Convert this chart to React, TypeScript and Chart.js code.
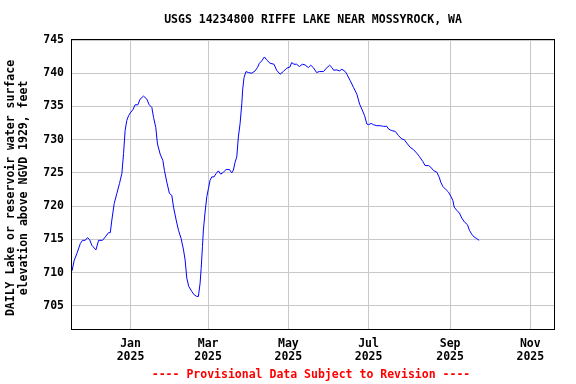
import React, { useEffect, useRef } from "react";
import { Chart, registerables } from "chart.js";

Chart.register(...registerables);

const TITLE = "USGS 14234800 RIFFE LAKE NEAR MOSSYROCK, WA";
const Y_TITLE = ["DAILY Lake or reservoir water surface", "elevation above NGVD 1929, feet"];
const FOOTER = "---- Provisional Data Subject to Revision ----";

// days since 2025-01-01
const days = [
  -44.5, -42.8, -40.8, -38.2, -36.5, -34.4, -32.7, -31.1, -29.4, -26.3,
  -24.3, -21.3, -19.2, -16.7, -15.4, -14.2, -12.4, -10.4, -8.4, -6.6,
  -5.3, -4.1, -2.8, -1.5, -0.3, 1.8, 3.5, 5.6, 7.3, 9.9,
  12.4, 14.2, 16.2, 17.5, 19.2, 20.5, 22.5, 24.6, 25.8, 27.6,
  29.6, 31.4, 32.7, 34.7, 36.5, 38.5, 40.3, 41.5, 42.8, 44.3,
  46.6, 48.4, 50.4, 51.6, 52.9, 53.7, 54.7, 55.4, 56.7, 58.0,
  59.2, 60.5, 61.8, 63.5, 65.1, 66.8, 68.6, 70.6, 72.7, 75.2,
  77.0, 78.2, 79.5, 80.8, 82.0, 83.3, 84.6, 85.3, 86.3, 87.8,
  89.6, 92.2, 94.7, 96.5, 98.0, 99.7, 101.8, 103.5, 106.1, 109.1,
  111.1, 113.7, 116.2, 118.7, 121.3, 122.5, 124.3, 126.3, 128.4, 130.6,
  132.7, 135.2, 137.0, 139.0, 141.5, 143.5, 146.8, 148.8, 151.4, 153.2,
  154.4, 156.9, 159.0, 160.7, 163.3, 164.5, 167.1, 169.6, 172.1, 174.2,
  175.9, 178.0, 179.7, 181.0, 183.0, 184.8, 187.3, 189.9, 192.4, 194.9,
  196.2, 198.7, 201.3, 203.8, 206.3, 208.1, 210.6, 212.6, 215.2, 217.7,
  219.7, 222.3, 224.0, 226.6, 228.3, 230.4, 232.9, 234.7, 235.9, 237.5,
  240.0, 241.8, 243.5, 245.1, 246.1, 248.1, 250.1, 251.9, 253.9, 256.2,
  257.7, 259.5, 261.3, 263.3, 265.1,
];

const elevations = [
  710.25, 711.85, 712.85, 714.35, 714.85, 714.85, 715.25, 714.95, 714.1, 713.4,
  714.85, 714.85, 715.35, 716.0, 716.0, 717.9, 720.4, 721.9, 723.4, 724.9,
  727.9, 731.4, 732.9, 733.6, 734.0, 734.5, 735.25, 735.25, 736.1, 736.55,
  736.1, 735.25, 734.85, 733.35, 731.85, 729.35, 727.85, 726.85, 725.35, 723.6,
  721.9, 721.6, 719.85, 717.9, 716.35, 715.1, 713.4, 711.9, 709.15, 707.9,
  707.15, 706.65, 706.4, 706.4, 708.4, 710.6, 713.9, 716.4, 719.1, 721.4,
  722.6, 723.9, 724.4, 724.4, 724.9, 725.3, 724.8, 725.1, 725.5, 725.5,
  725.0, 725.4, 726.6, 727.4, 730.4, 732.4, 735.4, 737.6, 739.35, 740.25,
  740.1, 740.0, 740.35, 740.85, 741.5, 741.85, 742.45, 742.0, 741.5, 741.35,
  740.45, 739.85, 740.25, 740.75, 740.95, 741.6, 741.35, 741.35, 741.0, 741.35,
  741.25, 740.85, 741.2, 740.85, 740.1, 740.25, 740.25, 740.75, 741.2, 740.85,
  740.45, 740.5, 740.35, 740.6, 740.25, 739.85, 738.85, 737.85, 736.85, 735.35,
  734.6, 733.6, 732.35, 732.25, 732.45, 732.25, 732.1, 732.1, 732.0, 732.0,
  731.6, 731.35, 731.25, 730.6, 730.1, 730.0, 729.35, 728.85, 728.5, 727.95,
  727.45, 726.7, 726.1, 726.1, 725.85, 725.35, 725.1, 724.35, 723.6, 722.95,
  722.45, 722.1, 721.5, 720.85, 719.85, 719.35, 718.95, 718.2, 717.6, 717.2,
  716.35, 715.75, 715.35, 715.1, 714.85,
];

const xTickDays = [0, 59, 120, 181, 243, 304];
const xTickLabels = [
  ["Jan", "2025"],
  ["Mar", "2025"],
  ["May", "2025"],
  ["Jul", "2025"],
  ["Sep", "2025"],
  ["Nov", "2025"],
];
const yTickValues = [705, 710, 715, 720, 725, 730, 735, 740, 745];

const FONT_FAMILY = "'DejaVu Sans Mono', monospace";
const FONT_SIZE = 11.5;

const decorPlugin = {
  id: "decor",
  beforeDatasetsDraw(chart: any) {
    const { ctx, chartArea: a } = chart;
    ctx.save();
    ctx.strokeStyle = "#000000";
    ctx.lineWidth = 1;
    ctx.strokeRect(a.left - 0.5, a.top - 0.5, a.right - a.left + 1, a.bottom - a.top + 1);
    ctx.restore();
  },
  afterDraw(chart: any) {
    const { ctx, chartArea: a } = chart;
    const cx = (a.left + a.right) / 2;
    ctx.save();
    ctx.font = `bold ${FONT_SIZE}px ${FONT_FAMILY}`;
    ctx.textAlign = "center";
    ctx.textBaseline = "middle";
    ctx.fillStyle = "#000000";
    ctx.fillText(TITLE, cx, 20);
    ctx.fillStyle = "#ff0000";
    ctx.fillText(FOOTER, cx - 2, 375);
    ctx.fillStyle = "#000000";
    const cy = 188;
    [11, 24.5].forEach((x, i) => {
      ctx.save();
      ctx.translate(x, cy);
      ctx.rotate(-Math.PI / 2);
      ctx.fillText(Y_TITLE[i], 0, 0);
      ctx.restore();
    });
    ctx.restore();
  },
};

export default function App() {
  const canvasRef = useRef<HTMLCanvasElement | null>(null);

  useEffect(() => {
    const canvas = canvasRef.current;
    if (!canvas) return;
    const tickFont = { family: FONT_FAMILY, size: FONT_SIZE, weight: "bold" as const, lineHeight: 1.13 };
    const chart = new Chart(canvas, {
      type: "line",
      data: {
        datasets: [
          {
            data: days.map((d, i) => ({ x: d, y: elevations[i] })),
            borderColor: "#0000ff",
            borderWidth: 1,
            pointRadius: 0,
            tension: 0,
            fill: false,
          },
        ],
      },
      options: {
        animation: false,
        responsive: false,
        layout: { padding: { left: 0, right: 22, top: 40, bottom: 0 } },
        plugins: {
          legend: { display: false },
          tooltip: { enabled: false },
          title: { display: false },
        },
        scales: {
          x: {
            type: "linear",
            min: -44.5,
            max: 322,
            afterBuildTicks: (s: any) => {
              s.ticks = xTickDays.map((v) => ({ value: v }));
            },
            afterFit: (s: any) => {
              s.height = 55;
            },
            ticks: {
              autoSkip: false,
              maxRotation: 0,
              minRotation: 0,
              padding: 9,
              color: "#000000",
              font: tickFont,
              callback: (v: any) => {
                const i = xTickDays.indexOf(Number(v));
                return i >= 0 ? xTickLabels[i] : "";
              },
            },
            grid: { color: "#c8c8c8", lineWidth: 1, drawTicks: false },
            border: { display: false },
          },
          y: {
            type: "linear",
            min: 701.5,
            max: 745,
            afterBuildTicks: (s: any) => {
              s.ticks = yTickValues.map((v) => ({ value: v }));
            },
            afterFit: (s: any) => {
              s.width = 72;
            },
            ticks: {
              padding: 8,
              color: "#000000",
              font: tickFont,
              callback: (v: any) => String(v),
            },
            grid: { color: "#c8c8c8", lineWidth: 1, drawTicks: false },
            border: { display: false },
          },
        },
      },
      plugins: [decorPlugin],
    });
    return () => chart.destroy();
  }, []);

  return (
    <div style={{ position: "absolute", left: 0, top: 0, width: 576, height: 384, background: "#ffffff" }}>
      <canvas ref={canvasRef} width={576} height={384} style={{ display: "block", width: 576, height: 384 }} />
    </div>
  );
}
